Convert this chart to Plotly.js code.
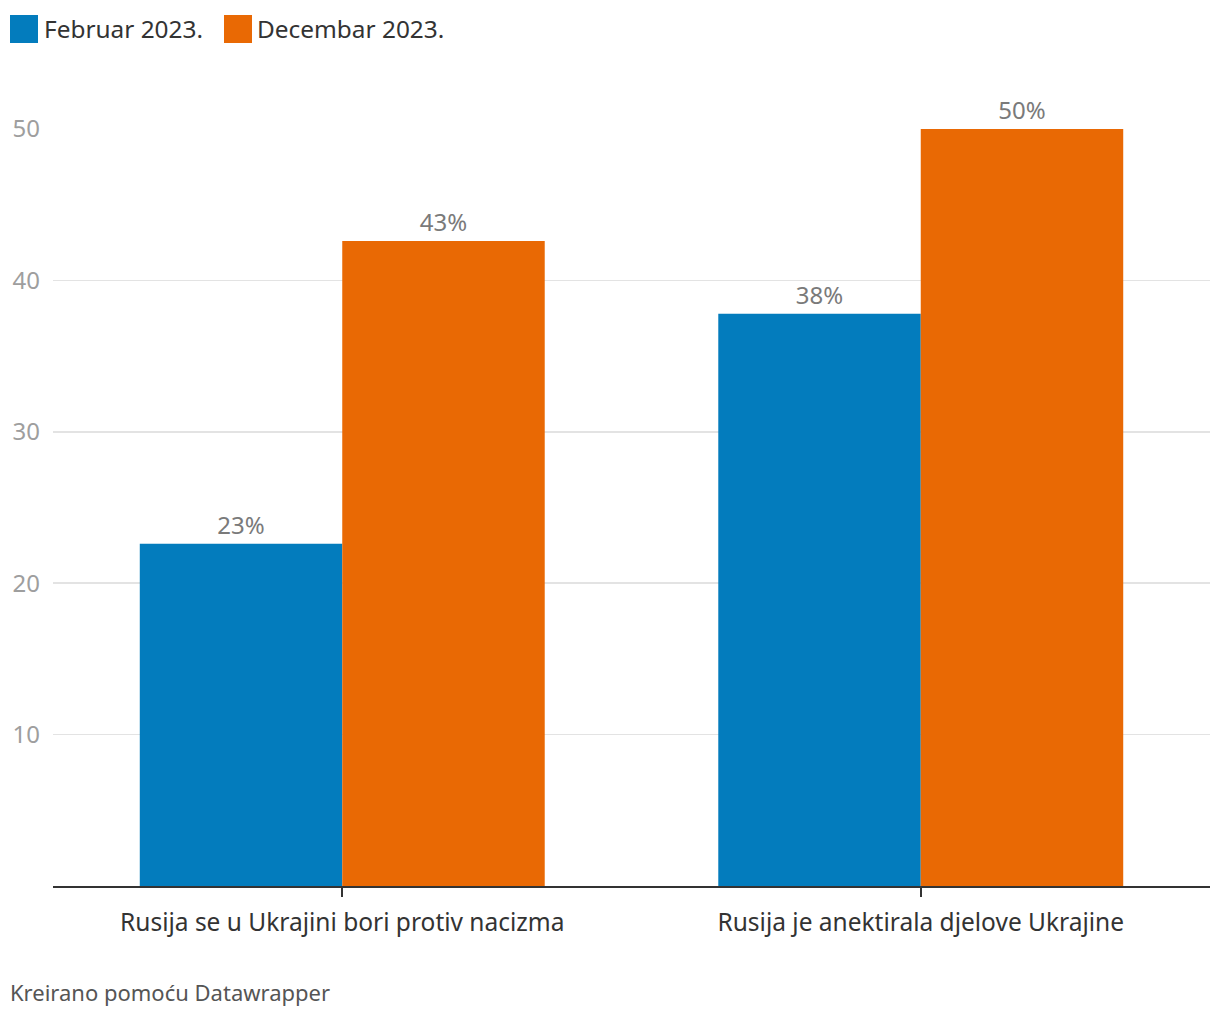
<!DOCTYPE html>
<html>
<head>
<meta charset="utf-8">
<script src="https://cdn.plot.ly/plotly-3.0.1.min.js"></script>
<style>html,body{margin:0;padding:0;background:#fff;}#chart{width:1220px;height:1020px;}</style>
</head>
<body>
<div id="chart"></div>
<script>
const categories = ["Rusija se u Ukrajini bori protiv nacizma", "Rusija je anektirala djelove Ukrajine"];
const seriesNames = ["Februar 2023.", "Decembar 2023."];
const februar = [22.6, 37.8];
const decembar = [42.6, 50.0];
const colors = ["#037cbd", "#e96904"];
const yTicks = [10, 20, 30, 40, 50];

const FONT = "'Noto Sans', 'Open Sans', sans-serif";

const traces = [februar, decembar].map((vals, i) => ({
  type: "bar",
  name: seriesNames[i],
  x: categories,
  y: vals,
  marker: {color: colors[i]},
  texttemplate: "%{y:.0f}%",
  textposition: "outside",
  textfont: {family: FONT, size: 24, color: "#7a7a7a"},
  cliponaxis: false,
  hoverinfo: "skip"
}));

const layout = {
  width: 1220,
  height: 1020,
  margin: {l: 53, r: 10, t: 129, b: 134},
  paper_bgcolor: "#fff",
  plot_bgcolor: "#fff",
  barmode: "group",
  bargap: 0.3,
  bargroupgap: 0,
  showlegend: false,
  font: {family: FONT},
  xaxis: {
    type: "category",
    showgrid: false,
    showline: true,
    linecolor: "#333",
    linewidth: 2,
    ticks: "outside",
    ticklen: 9,
    tickwidth: 2,
    tickcolor: "#333",
    tickfont: {family: FONT, size: 24.5, color: "#333"},
    ticklabelstandoff: 5,
    zeroline: false
  },
  yaxis: {
    range: [0, 50],
    tickvals: yTicks,
    ticktext: yTicks.map(String),
    showgrid: true,
    gridcolor: "#e3e3e3",
    gridwidth: 1.5,
    zeroline: false,
    showline: false,
    ticks: "",
    tickfont: {family: FONT, size: 24, color: "#9e9e9e"},
    ticklabelstandoff: 12
  },
  shapes: [
    {type: "rect", xref: "paper", yref: "paper", x0: -43/1157, x1: -15/1157, y0: 1 + 86/757, y1: 1 + 114/757, fillcolor: colors[0], line: {width: 0}},
    {type: "rect", xref: "paper", yref: "paper", x0: 171/1157, x1: 199/1157, y0: 1 + 86/757, y1: 1 + 114/757, fillcolor: colors[1], line: {width: 0}}
  ],
  annotations: [
    {text: seriesNames[0], xref: "paper", yref: "paper", x: -11/1157, y: 1 + 101/757, xanchor: "left", yanchor: "middle", showarrow: false, font: {family: FONT, size: 24.4, color: "#333"}},
    {text: seriesNames[1], xref: "paper", yref: "paper", x: 202/1157, y: 1 + 101/757, xanchor: "left", yanchor: "middle", showarrow: false, font: {family: FONT, size: 24.4, color: "#333"}},
    {text: "Kreirano pomoću Datawrapper", xref: "paper", yref: "paper", x: -45/1157, y: -106/757, xanchor: "left", yanchor: "middle", showarrow: false, font: {family: FONT, size: 22, color: "#555"}}
  ]
};

Plotly.newPlot("chart", traces, layout, {displayModeBar: false, staticPlot: true});
</script>
</body>
</html>
